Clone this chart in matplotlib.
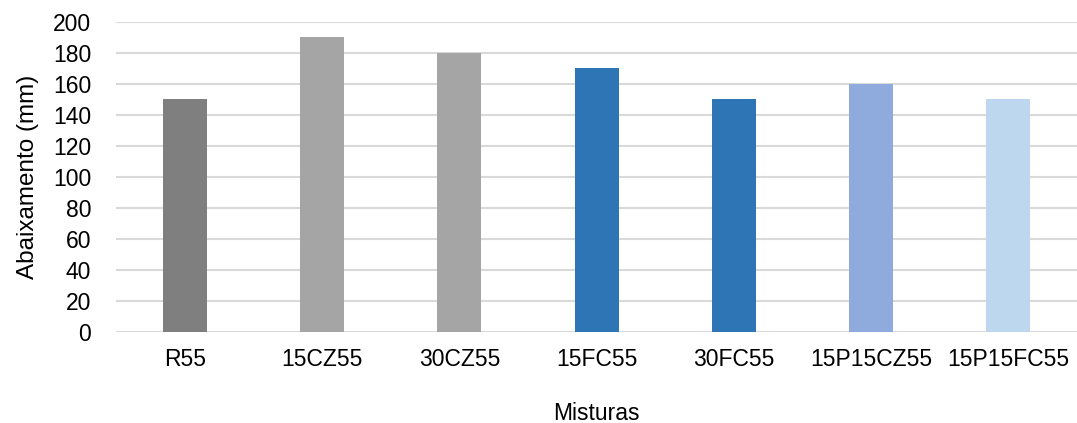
import matplotlib.pyplot as plt

plt.rcParams['font.family'] = ['Liberation Sans', 'DejaVu Sans']

misturas = ['R55', '15CZ55', '30CZ55', '15FC55', '30FC55', '15P15CZ55', '15P15FC55']
abaixamento = [150, 190, 180, 170, 150, 160, 150]
cores = ['#7f7f7f', '#a5a5a5', '#a5a5a5', '#2e75b6', '#2e75b6', '#8faadc', '#bdd7ee']

fig = plt.figure(figsize=(10.77, 4.23), dpi=100)
ax = fig.add_axes([0.108, 0.216, 0.892, 0.733])

x = range(len(misturas))
ax.bar(x, abaixamento, width=0.32, color=cores, zorder=3)

ax.set_xlim(-0.5, len(misturas) - 0.5)
ax.set_ylim(0, 200)
ax.set_yticks(range(0, 201, 20))
ax.set_xticks(list(x))
ax.set_xticklabels(misturas)
ax.yaxis.grid(True, color='#d9d9d9', linewidth=1.5, zorder=0)
for s in ax.spines.values():
    s.set_visible(False)
ax.tick_params(axis='both', length=0, labelsize=16.5)
ax.tick_params(axis='y', pad=18)
ax.tick_params(axis='x', pad=12)

ax.set_ylabel('Abaixamento (mm)', fontsize=17.5, labelpad=10)
ax.set_xlabel('Misturas', fontsize=16.5, labelpad=22)

fig.savefig('out.png', dpi=100)
